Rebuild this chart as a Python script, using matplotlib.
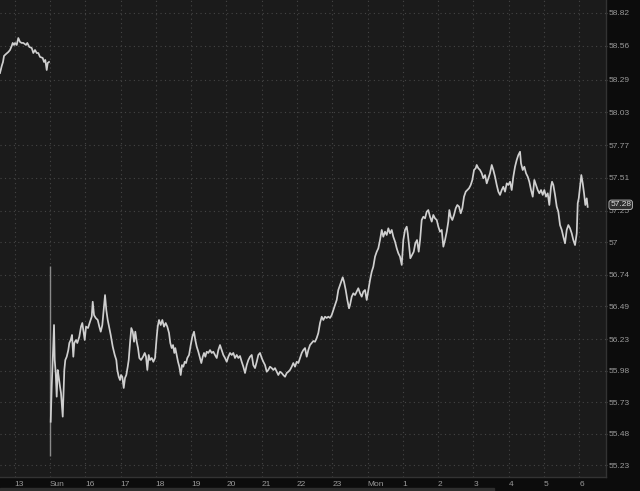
import matplotlib.pyplot as plt
from matplotlib.patches import Rectangle

# friday session (before the weekend gap)
fri_hours = [-0.417, -0.368, -0.332, -0.303, -0.247, -0.181, -0.133, -0.085, -0.057, -0.020,
             0.009, 0.057, 0.102, 0.150, 0.198, 0.244, 0.320, 0.357, 0.414, 0.482,
             0.527, 0.575, 0.624, 0.669, 0.717, 0.794, 0.830, 0.867, 0.907, 0.935, 0.972]
fri_prices = [58.343, 58.399, 58.431, 58.479, 58.494, 58.510, 58.526, 58.558, 58.582, 58.566,
              58.582, 58.566, 58.621, 58.590, 58.582, 58.582, 58.566, 58.582, 58.550, 58.542,
              58.502, 58.526, 58.502, 58.502, 58.471, 58.463, 58.431, 58.447, 58.367, 58.423, 58.431]

# opening bar on sunday
open_hour = 1.001
open_high = 56.811
open_low = 55.302

# sunday / monday session
hours = [1.020, 1.049, 1.077, 1.094, 1.114, 1.134, 1.162, 1.190, 1.219, 1.247,
         1.284, 1.312, 1.341, 1.361, 1.378, 1.406, 1.434, 1.474, 1.519, 1.548,
         1.587, 1.624, 1.661, 1.689, 1.738, 1.774, 1.831, 1.879, 1.916, 1.956,
         1.984, 2.021, 2.078, 2.134, 2.183, 2.211, 2.248, 2.296, 2.353, 2.398,
         2.438, 2.483, 2.523, 2.560, 2.596, 2.636, 2.673, 2.721, 2.778, 2.835,
         2.880, 2.908, 2.948, 2.985, 3.013, 3.050, 3.090, 3.126, 3.163, 3.203,
         3.231, 3.268, 3.305, 3.345, 3.382, 3.418, 3.458, 3.495, 3.532, 3.580,
         3.637, 3.685, 3.722, 3.759, 3.798, 3.835, 3.883, 3.929, 3.977, 4.025,
         4.053, 4.090, 4.138, 4.184, 4.232, 4.280, 4.325, 4.374, 4.410, 4.450,
         4.487, 4.524, 4.552, 4.592, 4.629, 4.666, 4.705, 4.742, 4.779, 4.819,
         4.856, 4.892, 4.941, 4.989, 5.034, 5.082, 5.119, 5.159, 5.204, 5.252,
         5.289, 5.329, 5.366, 5.403, 5.442, 5.488, 5.536, 5.584, 5.629, 5.677,
         5.726, 5.771, 5.819, 5.867, 5.913, 5.961, 6.009, 6.055, 6.103, 6.151,
         6.196, 6.244, 6.293, 6.338, 6.386, 6.434, 6.480, 6.528, 6.576, 6.622,
         6.670, 6.718, 6.763, 6.811, 6.860, 6.905, 6.953, 7.001, 7.047, 7.095,
         7.143, 7.188, 7.236, 7.285, 7.330, 7.378, 7.426, 7.472, 7.520, 7.568,
         7.613, 7.662, 7.710, 7.755, 7.803, 7.852, 7.897, 7.945, 7.993, 8.039,
         8.087, 8.135, 8.180, 8.229, 8.277, 8.322, 8.370, 8.418, 8.464, 8.512,
         8.560, 8.605, 8.654, 8.702, 8.747, 8.796, 8.844, 8.889, 8.937, 8.985,
         9.031, 9.079, 9.127, 9.172, 9.221, 9.269, 9.297, 9.334, 9.382, 9.428,
         9.476, 9.504, 9.552, 9.598, 9.646, 9.694, 9.739, 9.788, 9.836, 9.881,
         9.929, 9.977, 10.023, 10.071, 10.119, 10.164, 10.213, 10.261, 10.306, 10.354,
         10.403, 10.448, 10.496, 10.544, 10.590, 10.638, 10.686, 10.731, 10.780, 10.828,
         10.873, 10.921, 10.970, 11.015, 11.063, 11.111, 11.140, 11.176, 11.213, 11.261,
         11.310, 11.355, 11.403, 11.451, 11.490, 11.536, 11.582, 11.630, 11.678, 11.723,
         11.771, 11.820, 11.865, 11.913, 11.962, 12.007, 12.055, 12.103, 12.149, 12.197,
         12.245, 12.290, 12.319, 12.358, 12.404, 12.452, 12.500, 12.545, 12.594, 12.642,
         12.687, 12.735, 12.784, 12.829, 12.877, 12.925, 12.971, 13.019, 13.067, 13.095,
         13.141, 13.189, 13.237, 13.282, 13.331, 13.379, 13.424, 13.472, 13.521, 13.566,
         13.614, 13.662, 13.708, 13.756, 13.804, 13.849, 13.898, 13.946, 13.991, 14.039,
         14.087, 14.133, 14.181, 14.229, 14.275, 14.323, 14.351, 14.399, 14.445, 14.493,
         14.541, 14.586, 14.635, 14.683, 14.728, 14.776, 14.824, 14.870, 14.918, 14.966,
         15.011, 15.060, 15.108, 15.153, 15.201, 15.230, 15.267, 15.315, 15.363, 15.408,
         15.456, 15.505, 15.550, 15.598, 15.646, 15.692, 15.740, 15.788, 15.833, 15.882,
         15.930, 15.958, 15.987, 16.023, 16.060, 16.100, 16.137, 16.174, 16.213, 16.240]
prices = [55.574, 55.852, 56.064, 56.170, 56.342, 56.064, 55.961, 55.773, 55.985, 55.931,
          55.852, 55.802, 55.693, 55.614, 55.746, 55.985, 56.064, 56.090, 56.143, 56.199,
          56.223, 56.263, 56.090, 56.199, 56.223, 56.199, 56.249, 56.329, 56.358, 56.278,
          56.223, 56.329, 56.318, 56.368, 56.408, 56.527, 56.421, 56.398, 56.382, 56.329,
          56.289, 56.342, 56.461, 56.580, 56.461, 56.382, 56.329, 56.263, 56.170, 56.104,
          56.064, 55.985, 55.931, 55.905, 55.945, 55.931, 55.842, 55.921, 55.945, 56.011,
          56.064, 56.199, 56.318, 56.289, 56.209, 56.289, 56.209, 56.159, 56.080, 56.064,
          56.090, 56.120, 56.090, 55.985, 56.104, 56.064, 56.080, 56.050, 56.080, 56.249,
          56.329, 56.382, 56.342, 56.382, 56.329, 56.358, 56.329, 56.278, 56.199, 56.159,
          56.183, 56.120, 56.159, 56.104, 56.050, 56.011, 55.945, 56.024, 56.011, 56.050,
          56.040, 56.080, 56.104, 56.183, 56.249, 56.289, 56.223, 56.170, 56.130, 56.080,
          56.040, 56.090, 56.120, 56.090, 56.130, 56.120, 56.143, 56.120, 56.130, 56.104,
          56.080, 56.143, 56.183, 56.143, 56.104, 56.080, 56.050, 56.090, 56.120, 56.104,
          56.120, 56.080, 56.104, 56.080, 56.096, 56.050, 56.011, 55.961, 56.024, 56.064,
          56.090, 56.104, 56.024, 56.000, 56.050, 56.104, 56.120, 56.080, 56.050, 56.024,
          55.971, 55.985, 56.011, 56.000, 55.985, 56.000, 55.971, 55.945, 55.971, 55.961,
          55.945, 55.931, 55.961, 55.971, 55.985, 56.011, 56.040, 56.011, 56.050, 56.040,
          56.080, 56.120, 56.143, 56.159, 56.090, 56.143, 56.183, 56.199, 56.215, 56.209,
          56.239, 56.278, 56.358, 56.408, 56.382, 56.408, 56.398, 56.408, 56.398, 56.421,
          56.461, 56.501, 56.541, 56.620, 56.660, 56.699, 56.721, 56.686, 56.620, 56.541,
          56.475, 56.501, 56.567, 56.594, 56.580, 56.607, 56.634, 56.594, 56.567, 56.607,
          56.620, 56.541, 56.620, 56.699, 56.765, 56.805, 56.885, 56.924, 56.951, 57.017,
          57.097, 57.043, 57.083, 57.057, 57.110, 57.070, 57.097, 57.043, 57.004, 56.951,
          56.912, 56.885, 56.819, 57.017, 57.097, 57.123, 57.070, 56.977, 56.872, 56.898,
          56.924, 56.991, 57.017, 56.924, 57.017, 57.176, 57.202, 57.189, 57.242, 57.255,
          57.202, 57.163, 57.216, 57.189, 57.176, 57.123, 57.083, 57.097, 56.964, 57.017,
          57.083, 57.163, 57.255, 57.202, 57.176, 57.216, 57.269, 57.295, 57.282, 57.229,
          57.269, 57.361, 57.401, 57.414, 57.428, 57.454, 57.494, 57.573, 57.587, 57.613,
          57.587, 57.573, 57.547, 57.507, 57.533, 57.467, 57.507, 57.547, 57.613, 57.573,
          57.520, 57.454, 57.401, 57.375, 57.414, 57.440, 57.401, 57.467, 57.454, 57.480,
          57.414, 57.520, 57.599, 57.653, 57.692, 57.718, 57.626, 57.573, 57.599, 57.547,
          57.520, 57.480, 57.414, 57.361, 57.494, 57.454, 57.414, 57.388, 57.414, 57.375,
          57.414, 57.361, 57.388, 57.295, 57.440, 57.480, 57.454, 57.375, 57.282, 57.242,
          57.136, 57.097, 57.043, 56.991, 57.097, 57.136, 57.110, 57.070, 57.017, 56.977,
          57.070, 57.309, 57.348, 57.440, 57.533, 57.467, 57.388, 57.295, 57.348, 57.280]

x_labels = ['13', 'Sun', '16', '17', '18', '19', '20', '21', '22', '23',
            'Mon', '1', '2', '3', '4', '5', '6']
y_ticks = [58.82, 58.56, 58.29, 58.03, 57.77, 57.51, 57.25, 57.0, 56.74,
           56.49, 56.23, 55.98, 55.73, 55.48, 55.23]
y_labels = ['58.82', '58.56', '58.29', '58.03', '57.77', '57.51', '57.25', '57',
            '56.74', '56.49', '56.23', '55.98', '55.73', '55.48', '55.23']
last_label = '57.28'

plt.rcParams['font.family'] = ['Liberation Sans', 'DejaVu Sans']

fig = plt.figure(figsize=(6.4, 4.91), dpi=100, facecolor='#0c0c0c')
ax = fig.add_axes([0.0, 0.0285, 0.9469, 0.9715])
ax.set_facecolor('#1b1b1b')

ax.plot(fri_hours, fri_prices, color='#cfcfcf', lw=1.25)
ax.vlines(open_hour, open_low, open_high, color='#8a8a8a', lw=1.0)
ax.plot(hours, prices, color='#cfcfcf', lw=1.25)

ax.set_xlim(-0.417, 16.76)
ax.set_ylim(55.135, 58.923)

ax.set_xticks(range(len(x_labels)))
ax.set_xticklabels(x_labels, ha='left')
ax.set_yticks(y_ticks)
ax.set_yticklabels(y_labels)
ax.yaxis.tick_right()
ax.tick_params(axis='y', colors='#9a9a9a', labelsize=6, length=2, pad=1,
               direction='inout', color='#555555')
ax.tick_params(axis='x', colors='#9a9a9a', labelsize=6, length=0, pad=3)

ax.grid(True, color='#454545', lw=0.8, linestyle=(0, (1, 3)))

for side in ['top', 'left']:
    ax.spines[side].set_visible(False)
for side in ['right', 'bottom']:
    ax.spines[side].set_color('#333333')
    ax.spines[side].set_linewidth(1.0)

# last price tag on the axis, sitting over the 57.25 label as in the original
tag = ax.annotate(last_label, xy=(1.0, prices[-1]), xycoords=('axes fraction', 'data'),
                  xytext=(3, 1.5), textcoords='offset points', ha='left', va='center',
                  fontsize=6, color='#e0e0e0', zorder=5,
                  bbox=dict(boxstyle='round,pad=0.15,rounding_size=0.3', fc='#2e2e2e',
                            ec='#bdbdbd', lw=0.6))
tag.set_clip_on(False)

# scrollbar strip at the bottom
fig.patches.append(Rectangle((0, 0), 494 / 640, 3 / 491, transform=fig.transFigure,
                             color='#2e2e2e', zorder=0))

fig.savefig('out.png', dpi=100, facecolor=fig.get_facecolor())
